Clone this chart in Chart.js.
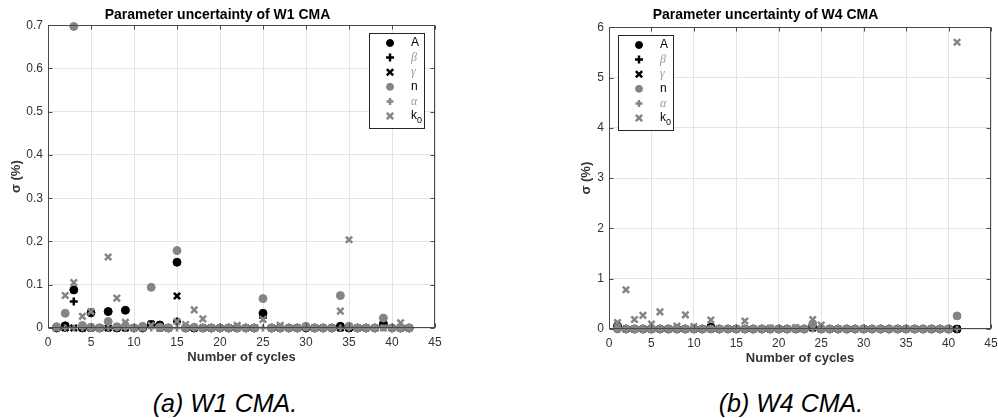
<!DOCTYPE html>
<html>
<head>
<meta charset="utf-8">
<script src="https://cdn.jsdelivr.net/npm/chart.js@4.4.1/dist/chart.umd.min.js"></script>
<style>
  body {
    margin: 0;
    width: 998px;
    height: 418px;
    overflow: hidden;
    background: #fff;
    position: relative;
    font-family: 'Liberation Sans', Arial, sans-serif;
  }
  canvas { position: absolute; top: 0; }
  #w1 { left: 0; }
  #w4 { left: 540px; }
  .caption {
    position: absolute;
    top: 389px;
    font-size: 25px;
    font-style: italic;
    color: #000;
    white-space: nowrap;
    transform: translateX(-50%);
  }
</style>
</head>
<body>
<canvas id="w1" width="483" height="370"></canvas>
<canvas id="w4" width="520" height="371"></canvas>
<div class="caption" style="left:225px">(a) W1 CMA.</div>
<div class="caption" style="left:791px">(b) W4 CMA.</div>
<script>
// cycle numbers
var cyclesW1 = [1, 2, 3, 4, 5, 6, 7, 8, 9, 10, 11, 12, 13, 14, 15, 16, 17, 18, 19, 20, 21,
  22, 23, 24, 25, 26, 27, 28, 29, 30, 31, 32, 33, 34, 35, 36, 37, 38, 39, 40, 41, 42];
var cyclesW4 = [1, 2, 3, 4, 5, 6, 7, 8, 9, 10, 11, 12, 13, 14, 15, 16, 17, 18, 19, 20, 21,
  22, 23, 24, 25, 26, 27, 28, 29, 30, 31, 32, 33, 34, 35, 36, 37, 38, 39, 40, 41];

// W1 CMA, sigma (%)
var aW1 = [0, 0.005, 0.088, 0, 0.035, 0, 0.038, 0, 0.041, 0,
  0, 0.008, 0.007, 0, 0.152, 0, 0, 0, 0, 0,
  0, 0, 0, 0, 0.034, 0, 0, 0, 0, 0,
  0, 0, 0, 0.004, 0, 0, 0, 0, 0.010, 0,
  0, 0];
var betaW1 = [0, 0, 0.061, 0, 0, 0, 0, 0, 0, 0,
  0, 0.008, 0, 0, 0.015, 0, 0, 0, 0, 0,
  0, 0, 0, 0, 0.024, 0, 0, 0, 0, 0,
  0, 0, 0, 0, 0, 0, 0, 0, 0.004, 0,
  0, 0];
var gammaW1 = [0, 0, 0, 0, 0, 0, 0, 0, 0, 0,
  0, 0.009, 0, 0, 0.074, 0, 0, 0, 0, 0,
  0, 0, 0, 0, 0.030, 0, 0, 0, 0, 0,
  0, 0, 0, 0, 0, 0, 0, 0, 0.007, 0,
  0, 0];
var nW1 = [0.003, 0.034, 0.697, 0.006, 0.002, 0, 0.015, 0.003, 0.005, 0,
  0.004, 0.094, 0.002, 0, 0.179, 0, 0.002, 0, 0, 0,
  0, 0, 0, 0, 0.068, 0, 0, 0, 0, 0.004,
  0, 0, 0, 0.075, 0.004, 0, 0, 0, 0.023, 0,
  0, 0];
var alphaW1 = [0, 0, 0, 0, 0, 0, 0, 0, 0, 0,
  0, 0, 0, 0, 0, 0, 0, 0, 0, 0,
  0, 0, 0, 0, 0, 0, 0, 0, 0, 0,
  0, 0, 0, 0, 0, 0, 0, 0, 0, 0,
  0, 0];
var k0W1 = [0, 0.075, 0.105, 0.027, 0.038, 0, 0.164, 0.069, 0.013, 0,
  0, 0.006, 0, 0, 0.015, 0.008, 0.042, 0.021, 0, 0,
  0, 0.006, 0, 0, 0.020, 0, 0.006, 0, 0, 0,
  0, 0, 0, 0.039, 0.204, 0, 0, 0, 0, 0,
  0.012, 0];

// W4 CMA, sigma (%)
var aW4 = [0.06, 0, 0, 0, 0, 0, 0, 0, 0, 0,
  0, 0.04, 0, 0, 0, 0, 0, 0, 0, 0,
  0, 0, 0, 0.06, 0, 0, 0, 0, 0, 0,
  0, 0, 0, 0, 0, 0, 0, 0, 0, 0,
  0];
var betaW4 = [0, 0, 0, 0, 0, 0, 0, 0, 0, 0,
  0, 0, 0, 0, 0, 0, 0, 0, 0, 0,
  0, 0, 0, 0.03, 0, 0, 0, 0, 0, 0,
  0, 0, 0, 0, 0, 0, 0, 0, 0, 0,
  0];
var gammaW4 = [0.03, 0, 0, 0, 0, 0, 0, 0, 0, 0,
  0, 0, 0, 0, 0, 0, 0, 0, 0, 0,
  0, 0, 0, 0.02, 0, 0, 0, 0, 0, 0,
  0, 0, 0, 0, 0, 0, 0, 0, 0, 0,
  0];
var nW4 = [0, 0, 0, 0, 0, 0, 0, 0, 0, 0,
  0, 0, 0, 0, 0, 0, 0, 0, 0, 0,
  0, 0, 0, 0.10, 0, 0, 0, 0, 0, 0,
  0, 0, 0, 0, 0, 0, 0, 0, 0, 0,
  0.26];
var alphaW4 = [0, 0, 0, 0, 0, 0, 0, 0, 0, 0,
  0, 0, 0, 0, 0, 0, 0, 0, 0, 0,
  0, 0, 0, 0, 0, 0, 0, 0, 0, 0,
  0, 0, 0, 0, 0, 0, 0, 0, 0, 0,
  0];
var k0W4 = [0.13, 0.78, 0.19, 0.27, 0.10, 0.34, 0, 0.06, 0.28, 0.05,
  0, 0.18, 0, 0, 0, 0.16, 0, 0, 0.02, 0,
  0, 0.03, 0, 0.19, 0.08, 0, 0, 0, 0, 0,
  0, 0, 0, 0, 0, 0, 0, 0, 0, 0,
  5.70];

var seriesNames = ['A', 'β', 'γ', 'n', 'α', 'k0'];

// marker look, same order as seriesNames
var seriesStyle = [
  { shape: 'circle', color: '#000', radius: 4, width: 1, text: '#000', italic: false },
  { shape: 'cross', color: '#000', radius: 4, width: 2.5, text: '#9a9a9a', italic: true },
  { shape: 'crossRot', color: '#000', radius: 4.5, width: 2.5, text: '#9a9a9a', italic: true },
  { shape: 'circle', color: '#858585', radius: 4, width: 1, text: '#000', italic: false },
  { shape: 'cross', color: '#858585', radius: 3.5, width: 2.5, text: '#9a9a9a', italic: true },
  { shape: 'crossRot', color: '#858585', radius: 4.5, width: 2.5, text: '#000', italic: false }
];

var FONT = "'Liberation Sans', Arial, sans-serif";

function buildDatasets(cycles, allValues) {
  return allValues.map(function (values, k) {
    var st = seriesStyle[k];
    return {
      label: seriesNames[k],
      data: values.map(function (v, i) { return { x: cycles[i], y: v }; }),
      pointStyle: st.shape,
      pointRadius: st.radius,
      pointBorderWidth: st.width,
      backgroundColor: st.color,
      borderColor: st.color,
      showLine: false,
      clip: false,
      order: seriesStyle.length - k // later series on top, like matlab
    };
  });
}

function drawMarker(ctx, st, x, y) {
  ctx.fillStyle = st.color;
  ctx.strokeStyle = st.color;
  ctx.lineWidth = st.width;
  ctx.beginPath();
  if (st.shape === 'circle') {
    ctx.arc(x, y, st.radius - 0.5, 0, Math.PI * 2);
    ctx.fill();
    ctx.stroke();
  } else if (st.shape === 'cross') {
    ctx.moveTo(x - st.radius, y); ctx.lineTo(x + st.radius, y);
    ctx.moveTo(x, y - st.radius); ctx.lineTo(x, y + st.radius);
    ctx.stroke();
  } else {
    var d = st.radius * Math.SQRT1_2;
    ctx.moveTo(x - d, y - d); ctx.lineTo(x + d, y + d);
    ctx.moveTo(x - d, y + d); ctx.lineTo(x + d, y - d);
    ctx.stroke();
  }
}

// matlab style box with inward ticks
var axesBox = {
  id: 'axesBox',
  afterDraw: function (chart) {
    var ctx = chart.ctx, a = chart.chartArea;
    var xs = chart.scales.x, ys = chart.scales.y;
    ctx.save();
    ctx.strokeStyle = '#4a4a4a';
    ctx.lineWidth = 1;
    var l = Math.round(a.left) + 0.5, r = Math.round(a.right) - 0.5;
    var t = Math.round(a.top) + 0.5, b = Math.round(a.bottom) - 0.5;
    ctx.strokeRect(l, t, r - l, b - t);
    ctx.beginPath();
    xs.ticks.forEach(function (tk) {
      var px = Math.round(xs.getPixelForValue(tk.value)) + 0.5;
      ctx.moveTo(px, b); ctx.lineTo(px, b - 4);
      ctx.moveTo(px, t); ctx.lineTo(px, t + 4);
    });
    ys.ticks.forEach(function (tk) {
      var py = Math.round(ys.getPixelForValue(tk.value)) + 0.5;
      ctx.moveTo(l, py); ctx.lineTo(l + 4, py);
      ctx.moveTo(r, py); ctx.lineTo(r - 4, py);
    });
    ctx.stroke();
    ctx.restore();
  }
};

// legend box inside the axes
var boxLegend = {
  id: 'boxLegend',
  afterDraw: function (chart, args, opts) {
    var ctx = chart.ctx, a = chart.chartArea;
    var w = 55, h = 95;
    var x = opts.side === 'right' ? Math.round(a.right) - opts.inset - w : Math.round(a.left) + opts.inset;
    var y = Math.round(a.top) + 8;
    ctx.save();
    ctx.fillStyle = '#fff';
    ctx.fillRect(x, y, w, h);
    ctx.strokeStyle = '#262626';
    ctx.lineWidth = 1;
    ctx.strokeRect(x + 0.5, y + 0.5, w, h);
    seriesNames.forEach(function (name, k) {
      var st = seriesStyle[k];
      var cy = y + 10 + k * 14.6;
      drawMarker(ctx, st, x + 21, cy);
      ctx.fillStyle = st.text;
      ctx.textBaseline = 'middle';
      ctx.textAlign = 'left';
      if (name === 'k0') {
        ctx.font = '12px ' + FONT;
        ctx.fillText('k', x + 42, cy);
        ctx.font = '9px ' + FONT;
        ctx.fillText('0', x + 48, cy + 5);
      } else {
        ctx.font = (st.italic ? 'italic 12px serif' : '12px ' + FONT);
        ctx.fillText(name, x + 42, cy);
      }
    });
    ctx.restore();
  }
};

function makeChart(id, title, cycles, allValues, yMax, yStep, opt) {
  var ctx = document.getElementById(id).getContext('2d');
  return new Chart(ctx, {
    type: 'scatter',
    data: { datasets: buildDatasets(cycles, allValues) },
    plugins: [axesBox, boxLegend],
    options: {
      responsive: false,
      animation: false,
      layout: { padding: { left: 0, right: opt.padRight, top: 0, bottom: 0 } },
      plugins: {
        legend: { display: false },
        tooltip: { enabled: false },
        title: {
          display: true,
          text: title,
          color: '#000',
          font: { family: FONT, size: 14, weight: 'bold' },
          padding: { top: opt.titleTop, bottom: opt.titleBottom }
        },
        boxLegend: { side: opt.legendSide, inset: opt.legendInset }
      },
      scales: {
        x: {
          type: 'linear',
          min: 0,
          max: 45,
          afterFit: function (s) { s.height = 42; },
          ticks: { stepSize: 5, color: '#333', padding: 7, font: { family: FONT, size: 12 } },
          grid: { color: '#e4e4e4', drawTicks: false },
          border: { display: false },
          title: {
            display: true,
            text: 'Number of cycles',
            color: '#333',
            font: { family: FONT, size: 13, weight: 'bold' },
            padding: { top: 0, bottom: 5 }
          }
        },
        y: {
          type: 'linear',
          min: 0,
          max: yMax,
          afterFit: function (s) { s.width = opt.yWidth; },
          ticks: { stepSize: yStep, color: '#333', padding: 5, font: { family: FONT, size: 12 } },
          grid: { color: '#e4e4e4', drawTicks: false },
          border: { display: false },
          title: {
            display: true,
            text: 'σ (%)',
            color: '#333',
            font: { family: FONT, size: 13, weight: 'bold' },
            padding: { top: opt.yTitlePad, bottom: 0 }
          }
        }
      }
    }
  });
}

makeChart('w1', 'Parameter uncertainty of W1 CMA', cyclesW1,
  [aW1, betaW1, gammaW1, nW1, alphaW1, k0W1], 0.7, 0.1,
  { padRight: 48, titleTop: 7, titleBottom: 1.4, yWidth: 48, yTitlePad: 9, legendSide: 'right', legendInset: 11 });

makeChart('w4', 'Parameter uncertainty of W4 CMA', cyclesW4,
  [aW4, betaW4, gammaW4, nW4, alphaW4, k0W4], 6, 1,
  { padRight: 69, titleTop: 7, titleBottom: 3.4, yWidth: 69, yTitlePad: 39, legendSide: 'left', legendInset: 9 });
</script>
</body>
</html>
